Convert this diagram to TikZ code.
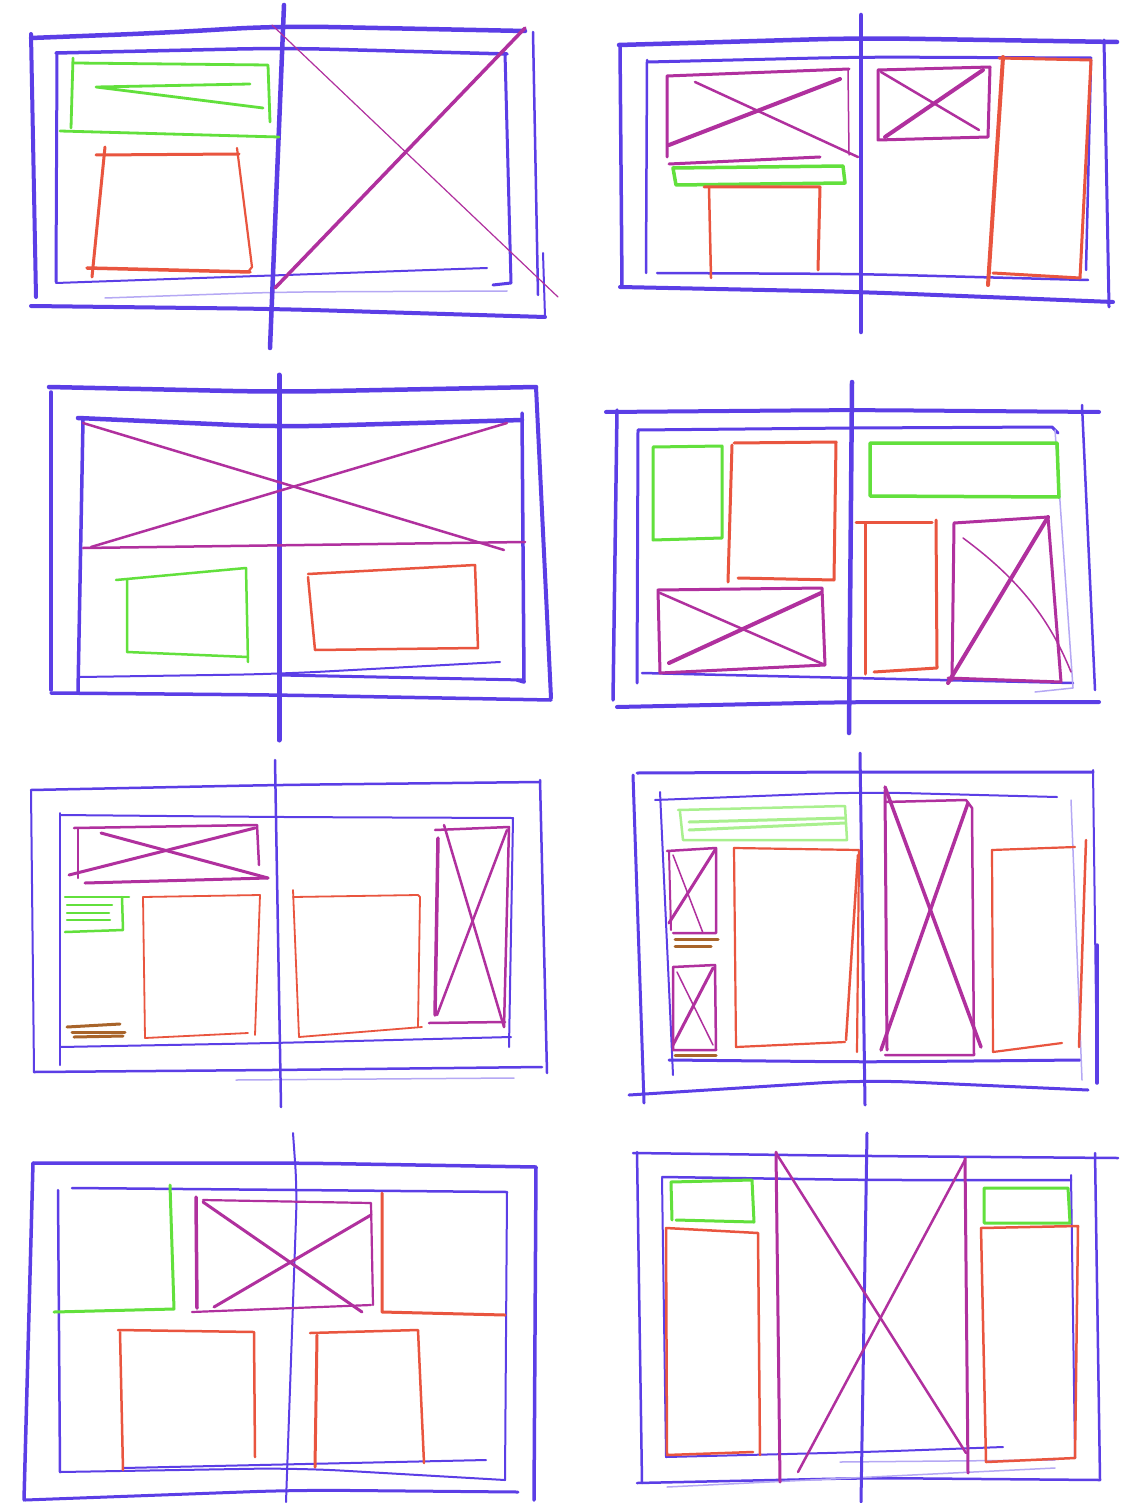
\documentclass[tikz,border=0pt]{standalone}
\usepackage{tikz}
\usepackage{xcolor}
\definecolor{pen}{HTML}{5B3EE6}
\definecolor{penred}{HTML}{E9553F}
\definecolor{pengreen}{HTML}{62E03C}
\definecolor{penlight}{HTML}{A9F08E}
\definecolor{penmag}{HTML}{B0309E}
\definecolor{penbrown}{HTML}{A8642A}

\begin{document}
\begin{tikzpicture}[x=1pt, y=-1pt, line cap=round, line join=round,
  pageline/.style={draw=pen, line width=#1},
  sweep/.style={rounded corners=45pt},
  faintline/.style={draw=pen!45, line width=1.5pt},
  textbox/.style={draw=pengreen, line width=#1},
  copybox/.style={draw=penred, line width=#1},
  imagebox/.style={draw=penmag, line width=#1},
  notes/.style={draw=penbrown, line width=3pt}
]
  \useasboundingbox[fill=white] (0,0) rectangle (1133,1503);

  % spread 1
  \draw[pageline=4.5pt, sweep] (31,38) -- (160,33) -- (279,26) -- (525,31);
  \draw[pageline=4pt] (31,34) -- (36,297);
  \draw[pageline=4pt, sweep] (31,306) -- (279,309) -- (545,317);
  \draw[pageline=2.5pt] (533,32) -- (538,295);
  \draw[pageline=2pt] (543,253) -- (545,317);
  \draw[faintline, sweep] (105,298) -- (279,292) -- (507,291);
  \draw[pageline=3.5pt, sweep] (56,53) -- (283,48) -- (507,54);
  \draw[pageline=3pt] (57,53) -- (56,282);
  \draw[pageline=2pt] (56,283) -- (487,268);
  \draw[pageline=3pt] (505,53) -- (511,283) -- (493,285);
  \draw[pageline=4.5pt] (284,5) -- (270,348);
  \draw[textbox=2.8pt] (74,63) -- (268,65) -- (270,122);
  \draw[textbox=2.8pt] (73,58) -- (71,128);
  \draw[textbox=2.8pt] (60,131) -- (279,137);
  \draw[textbox=2.8pt] (250,84) -- (96,87) -- (263,108);
  \draw[copybox=3pt] (96,155) -- (239,154);
  \draw[copybox=3pt] (105,147) -- (92,277);
  \draw[copybox=2.2pt] (237,148) -- (252,267) -- (248,272);
  \draw[copybox=3.5pt] (87,268) -- (250,272);
  \draw[imagebox=3.5pt] (275,288) -- (525,28);
  \draw[imagebox=1.2pt] (272,25) -- (558,297);

  % spread 2
  \draw[pageline=4.5pt, sweep] (619,45) -- (861,38) -- (1117,42);
  \draw[pageline=3.5pt] (620,45) -- (622,287);
  \draw[pageline=4pt, sweep] (620,287) -- (861,292) -- (1113,302);
  \draw[pageline=3pt] (1104,40) -- (1109,307);
  \draw[pageline=3pt, sweep] (648,62) -- (861,57) -- (1091,58);
  \draw[pageline=2.5pt] (647,60) -- (646,273);
  \draw[pageline=2.5pt, sweep] (657,273) -- (861,274) -- (1088,280);
  \draw[pageline=2.5pt] (1091,60) -- (1086,270);
  \draw[pageline=4.5pt] (861,15) -- (861,332);
  \draw[imagebox=3pt] (667,157) -- (667,76) -- (849,69);
  \draw[imagebox=1.5pt] (848,70) -- (849,155);
  \draw[imagebox=4pt] (669,145) -- (840,79);
  \draw[imagebox=2.5pt] (695,82) -- (858,157);
  \draw[imagebox=3pt] (669,164) -- (820,157);
  \draw[textbox=3.5pt] (673,168) -- (843,166) -- (845,183) -- (676,185) -- cycle;
  \draw[copybox=3pt] (704,187) -- (820,187) -- (818,270);
  \draw[copybox=2.5pt] (709,188) -- (711,278);
  \draw[imagebox=3pt] (878,70) -- (990,67) -- (988,137) -- (878,140) -- cycle;
  \draw[imagebox=4pt] (885,137) -- (983,70);
  \draw[imagebox=2.5pt] (881,72) -- (979,130);
  \draw[copybox=3pt] (999,58) -- (1091,60) -- (1080,278) -- (993,273);
  \draw[copybox=4pt] (1003,57) -- (988,285);

  % spread 3
  \draw[pageline=4.5pt, sweep] (49,387) -- (279,392) -- (536,387);
  \draw[pageline=3.5pt] (51,392) -- (51,690);
  \draw[pageline=3.5pt, sweep] (51,693) -- (279,695) -- (551,700);
  \draw[pageline=4pt] (536,387) -- (551,698);
  \draw[pageline=4.5pt, sweep] (78,418) -- (279,427) -- (522,420);
  \draw[pageline=3.5pt] (83,420) -- (78,692);
  \draw[pageline=3.5pt] (522,413) -- (524,682) -- (517,680);
  \draw[pageline=2pt, sweep] (80,677) -- (279,674) -- (500,662);
  \draw[pageline=3pt] (279,675) -- (523,680);
  \draw[pageline=5pt] (279,375) -- (279,740);
  \draw[imagebox=2.5pt] (83,423) -- (504,550);
  \draw[imagebox=2.5pt] (91,547) -- (507,423);
  \draw[imagebox=2.5pt] (83,548) -- (525,542);
  \draw[textbox=2.5pt] (116,580) -- (246,568) -- (248,662);
  \draw[textbox=2.5pt] (127,580) -- (127,652) -- (248,657);
  \draw[copybox=2.5pt] (308,574) -- (475,565) -- (478,648) -- (315,650) -- (308,577);

  % spread 4
  \draw[pageline=4pt, sweep] (606,412) -- (852,410) -- (1099,412);
  \draw[pageline=3.5pt] (617,410) -- (613,700);
  \draw[pageline=4pt, sweep] (617,707) -- (852,702) -- (1099,702);
  \draw[pageline=2.5pt] (1082,405) -- (1095,690);
  \draw[pageline=3pt] (638,430) -- (852,428) -- (1052,427) -- (1058,433);
  \draw[pageline=3pt] (638,430) -- (637,683);
  \draw[pageline=2.5pt, sweep] (642,673) -- (852,678) -- (1073,683);
  \draw[faintline] (1055,430) -- (1073,688) -- (1035,692);
  \draw[pageline=4.5pt] (852,382) -- (849,733);
  \draw[textbox=3pt] (653,447) -- (722,446) -- (722,538) -- (653,540) -- cycle;
  \draw[copybox=3pt] (734,443) -- (836,442) -- (834,580) -- (738,578);
  \draw[copybox=3pt] (732,445) -- (728,582);
  \draw[textbox=3.5pt] (870,443) -- (1057,443) -- (1059,497) -- (870,496) -- cycle;
  \draw[copybox=3pt] (856,522) -- (932,522);
  \draw[copybox=3pt] (865,523) -- (865,674);
  \draw[copybox=3pt] (936,520) -- (937,668) -- (874,672);
  \draw[imagebox=3pt] (658,590) -- (822,588) -- (825,665) -- (660,673) -- cycle;
  \draw[imagebox=2.5pt] (660,593) -- (825,665);
  \draw[imagebox=4pt] (669,663) -- (821,593);
  \draw[imagebox=3pt] (954,523) -- (1048,517) -- (1061,682) -- (948,678);
  \draw[imagebox=3pt] (954,523) -- (952,680);
  \draw[imagebox=4pt] (1048,517) -- (948,683);
  \draw[imagebox=1.5pt] (963,538) .. controls (1020,580) and (1050,620) .. (1071,672);

  % spread 5
  \draw[pageline=2.5pt, sweep] (31,790) -- (275,785) -- (540,782);
  \draw[pageline=2pt] (31,790) -- (34,1072);
  \draw[pageline=2.5pt, sweep] (34,1072) -- (275,1070) -- (542,1067);
  \draw[faintline] (236,1080) -- (514,1078);
  \draw[pageline=2.5pt] (540,780) -- (547,1073);
  \draw[pageline=2pt, sweep] (60,815) -- (275,817) -- (513,818);
  \draw[pageline=2pt] (60,813) -- (60,1065);
  \draw[pageline=2pt, sweep] (60,1047) -- (275,1043) -- (511,1037);
  \draw[pageline=2pt] (513,818) -- (509,1047);
  \draw[pageline=2.5pt] (275,760) -- (281,1107);
  \draw[imagebox=2.5pt] (74,828) -- (257,825) -- (259,865);
  \draw[imagebox=2pt] (78,828) -- (78,878);
  \draw[imagebox=3pt] (85,883) -- (268,878);
  \draw[imagebox=3pt] (69,875) -- (255,828);
  \draw[imagebox=3pt] (101,833) -- (268,878);
  \draw[textbox=2.5pt] (65,897) -- (129,897);
  \draw[textbox=2.5pt] (122,897) -- (123,930) -- (65,932);
  \draw[textbox=2.5pt] (67,905) -- (112,905);
  \draw[textbox=2.5pt] (67,913) -- (109,913);
  \draw[textbox=2.5pt] (67,920) -- (110,920);
  \draw[notes] (67,1027) -- (120,1024);
  \draw[notes] (72,1032) -- (125,1032);
  \draw[notes] (74,1037) -- (123,1036);
  \draw[copybox=1.8pt] (143,897) -- (260,895) -- (255,1035);
  \draw[copybox=1.8pt] (143,897) -- (145,1038) -- (248,1033);
  \draw[copybox=1.8pt] (293,890) -- (299,1037) -- (422,1027);
  \draw[copybox=1.8pt] (293,897) -- (418,895) -- (420,897) -- (418,1027);
  \draw[imagebox=2.5pt] (435,830) -- (509,827) -- (504,1027);
  \draw[imagebox=3.5pt] (438,838) -- (435,1015);
  \draw[imagebox=2.5pt] (429,1023) -- (505,1022);
  \draw[imagebox=2.5pt] (444,825) -- (504,1027);
  \draw[imagebox=2.5pt] (507,830) -- (437,1015);

  % spread 6
  \draw[pageline=3pt, sweep] (637,773) -- (861,772) -- (1093,772);
  \draw[pageline=3pt] (633,775) -- (644,1103);
  \draw[pageline=3pt, sweep] (629,1095) -- (865,1080) -- (1088,1090);
  \draw[pageline=2pt] (1093,770) -- (1097,1083);
  \draw[pageline=3.5pt] (1097,945) -- (1097,1083);
  \draw[pageline=2pt, sweep] (655,800) -- (863,792) -- (1057,797);
  \draw[pageline=2pt] (660,792) -- (673,1075);
  \draw[pageline=3pt, sweep] (669,1060) -- (865,1062) -- (1080,1060);
  \draw[faintline] (1071,800) -- (1082,1080);
  \draw[pageline=3pt] (860,753) -- (865,1105);
  \draw[draw=penlight, line width=2.5pt] (678,810) -- (845,806) -- (847,840) -- (683,840) -- (680,812);
  \draw[draw=penlight, line width=3pt] (689,822) -- (845,818);
  \draw[draw=penlight, line width=3pt] (689,830) -- (845,823);
  \draw[imagebox=2.5pt] (667,851) -- (716,848) -- (716,933) -- (673,933);
  \draw[imagebox=2pt] (669,851) -- (671,930);
  \draw[imagebox=3pt] (669,923) -- (715,850);
  \draw[imagebox=1.5pt] (673,855) -- (703,933);
  \draw[notes] (675,939) -- (718,939);
  \draw[notes] (675,946) -- (711,946);
  \draw[imagebox=2.5pt] (673,967) -- (715,965) -- (716,1050) -- (673,1050) -- cycle;
  \draw[imagebox=3pt] (673,1045) -- (713,968);
  \draw[imagebox=1.5pt] (677,972) -- (713,1045);
  \draw[notes] (675,1055) -- (716,1055);
  \draw[copybox=2.2pt] (734,848) -- (859,850) -- (857,1052);
  \draw[copybox=2.2pt] (734,848) -- (736,1047) -- (845,1042);
  \draw[copybox=2.5pt] (858,855) -- (846,1040);
  \draw[imagebox=2.5pt] (885,802) -- (966,800) -- (972,808) -- (974,1055) -- (885,1055);
  \draw[imagebox=3pt] (885,790) -- (887,1050);
  \draw[imagebox=3.5pt] (885,787) -- (981,1047);
  \draw[imagebox=3.5pt] (968,803) -- (881,1050);
  \draw[copybox=2.2pt] (992,850) -- (1075,847);
  \draw[copybox=2.2pt] (992,850) -- (993,1052) -- (1062,1043);
  \draw[copybox=2.5pt] (1086,840) -- (1079,1047);

  % spread 7
  \draw[pageline=3.5pt, sweep] (33,1163) -- (297,1163) -- (536,1167);
  \draw[pageline=3.5pt] (33,1163) -- (24,1500);
  \draw[pageline=3pt, sweep] (25,1500) -- (297,1490) -- (518,1492);
  \draw[pageline=3.5pt] (536,1167) -- (534,1500);
  \draw[pageline=2.5pt, sweep] (72,1188) -- (297,1190) -- (507,1192);
  \draw[pageline=2.5pt] (58,1190) -- (60,1472);
  \draw[pageline=2pt, sweep] (60,1472) -- (297,1468) -- (505,1480);
  \draw[pageline=2pt] (123,1468) -- (486,1460);
  \draw[pageline=2pt] (507,1192) -- (505,1480);
  \draw[pageline=2pt, rounded corners=25pt] (293,1133) -- (297,1190) -- (286,1502);
  \draw[textbox=3pt] (170,1185) -- (174,1309) -- (54,1312);
  \draw[imagebox=2.2pt] (203,1200) -- (371,1203) -- (373,1305);
  \draw[imagebox=3.5pt] (196,1197) -- (197,1308);
  \draw[imagebox=2.2pt] (192,1312) -- (371,1305);
  \draw[imagebox=3pt] (203,1202) -- (362,1312);
  \draw[imagebox=3pt] (214,1307) -- (371,1215);
  \draw[copybox=3pt] (382,1193) -- (382,1312) -- (505,1315);
  \draw[copybox=2.5pt] (118,1330) -- (254,1332) -- (255,1457);
  \draw[copybox=2.5pt] (120,1332) -- (123,1470);
  \draw[copybox=2.5pt] (310,1333) -- (418,1330) -- (424,1463);
  \draw[copybox=3pt] (317,1335) -- (315,1467);

  % spread 8
  \draw[pageline=2.5pt, sweep] (633,1153) -- (867,1156) -- (1118,1158);
  \draw[pageline=2.5pt] (637,1152) -- (642,1483);
  \draw[pageline=2.5pt, sweep] (637,1483) -- (867,1478) -- (1100,1480);
  \draw[faintline] (667,1487) -- (1055,1468);
  \draw[pageline=2.5pt] (1095,1153) -- (1100,1480);
  \draw[pageline=2.5pt, sweep] (662,1177) -- (867,1180) -- (1071,1180);
  \draw[pageline=2pt] (662,1178) -- (666,1457);
  \draw[pageline=2pt, sweep] (666,1457) -- (867,1452) -- (1003,1447);
  \draw[faintline] (840,1462) -- (1055,1460);
  \draw[pageline=2pt] (1071,1175) -- (1075,1458);
  \draw[pageline=3pt] (867,1133) -- (861,1502);
  \draw[textbox=3pt] (671,1182) -- (752,1180) -- (754,1222) -- (676,1220);
  \draw[textbox=3pt] (671,1182) -- (672,1220);
  \draw[copybox=2.5pt] (666,1228) -- (758,1233) -- (760,1455);
  \draw[copybox=2.5pt] (666,1228) -- (667,1455) -- (753,1452);
  \draw[imagebox=3pt] (776,1152) -- (780,1482);
  \draw[imagebox=3pt] (965,1158) -- (968,1473);
  \draw[imagebox=2.5pt] (776,1153) -- (966,1453);
  \draw[imagebox=2.5pt] (965,1160) -- (798,1472);
  \draw[textbox=3pt] (984,1188) -- (1068,1188) -- (1070,1223) -- (984,1223) -- cycle;
  \draw[copybox=2.5pt] (981,1228) -- (1078,1226) -- (1075,1458) -- (986,1462);
  \draw[copybox=2.5pt] (981,1228) -- (986,1462);
\end{tikzpicture}
\end{document}
